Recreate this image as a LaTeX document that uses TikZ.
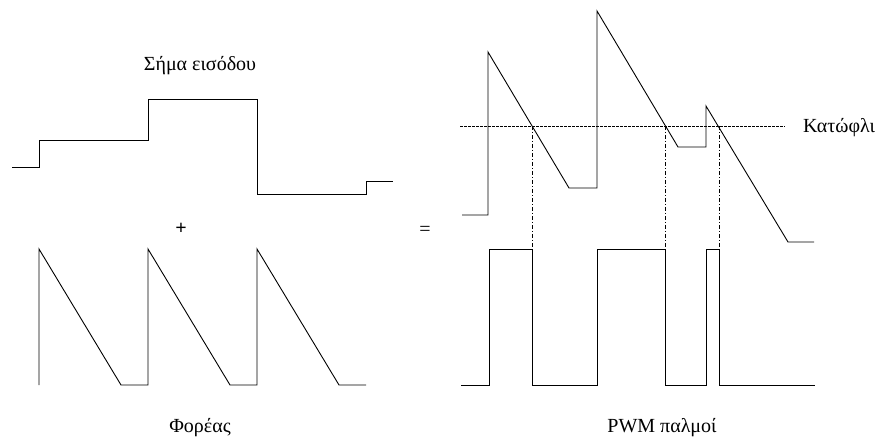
\documentclass[tikz,border=0pt]{standalone}
\usepackage{fontspec}
\setmainfont{Liberation Serif}
\begin{document}
\begin{tikzpicture}[x=1pt,y=-1pt,
  wave/.style={line width=0.9pt,line join=miter},
  thresh/.style={line width=0.6pt,dash pattern=on 2.5pt off 1.5pt},
  guide/.style={line width=0.6pt,dash pattern=on 4pt off 2pt on 1pt off 2pt},
  lbl/.style={font=\fontsize{20}{23}\selectfont,inner sep=0pt}]
\useasboundingbox (0,0) rectangle (883,438);
% input signal
\draw[wave] (12,167) -- (39,167) -- (39,140) -- (148,140) -- (148,99) -- (257,99)
  -- (257,194) -- (366,194) -- (366,181) -- (393,181);
% carrier
\draw[wave] (39,385) -- (39,249) -- (121,385) -- (148,385) -- (148,249) -- (230,385)
  -- (257,385) -- (257,249) -- (339,385) -- (366,385);
% sum
\draw[wave] (462,215) -- (488,215) -- (488,52) -- (569,188) -- (597,188) -- (597,11)
  -- (678,147) -- (706,147) -- (706,106) -- (788,242) -- (814,242);
% threshold
\coordinate (tl) at (460,126);
\coordinate (tr) at (785,126);
\draw[thresh] (tl) -- (tr);
% guide lines
\coordinate (g1t) at (532,126); \coordinate (g1b) at (532,385);
\coordinate (g2t) at (665,126); \coordinate (g2b) at (665,385);
\coordinate (g3t) at (719,126); \coordinate (g3b) at (719,385);
\draw[guide] (g1t) -- (g1b);
\draw[guide] (g2t) -- (g2b);
\draw[guide] (g3t) -- (g3b);
% PWM
\draw[wave] (461,385) -- (489,385) -- (489,249) -- (532,249) -- (532,385) -- (597,385)
  -- (597,249) -- (665,249) -- (665,385) -- (706,385) -- (706,249) -- (719,249)
  -- (719,385) -- (815,385);
% labels
\node[lbl,anchor=base] (sig) at (200,71) {Σήμα εισόδου};
\node[lbl,anchor=base] (car) at (200,432) {Φορέας};
\node[lbl,anchor=base] (pwm) at (662,432) {PWM παλμοί};
\node[lbl,anchor=base west] (thr) at (803,133) {Κατώφλι};
\node[lbl,font=\fontsize{20}{23}\selectfont\bfseries] (plus) at (181,229) {+};
\node[lbl] (eq) at (425,231) {=};
\end{tikzpicture}
\end{document}
